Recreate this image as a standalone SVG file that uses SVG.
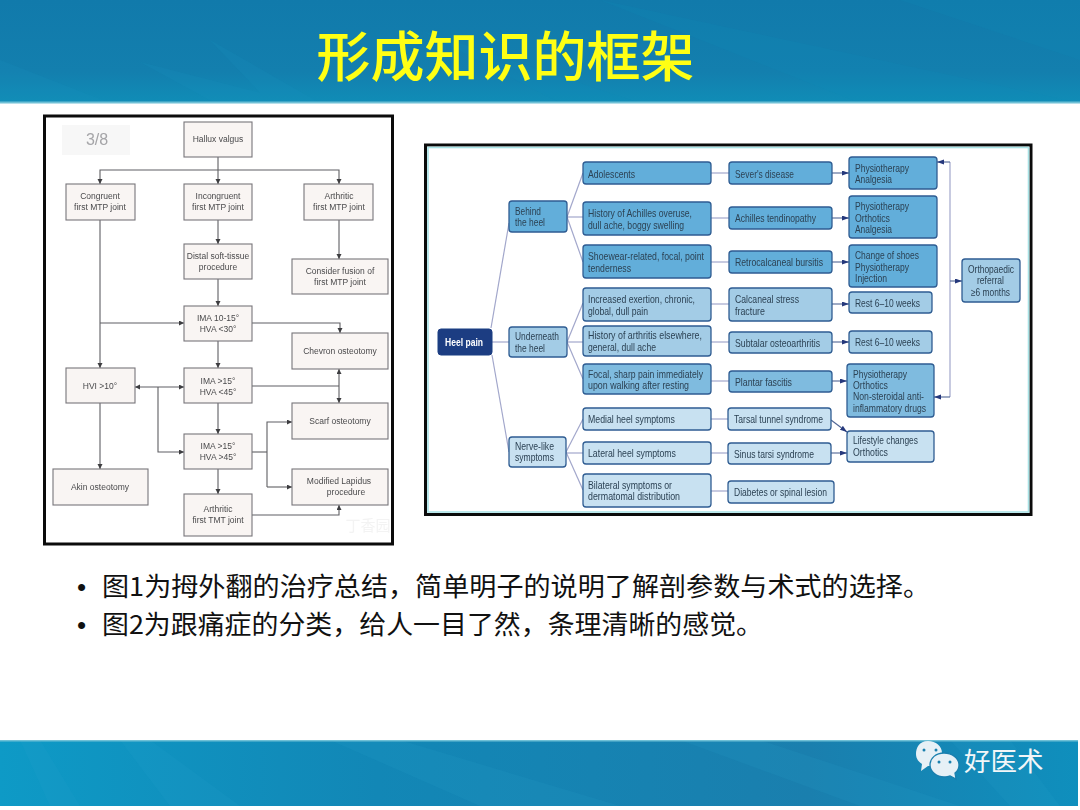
<svg xmlns="http://www.w3.org/2000/svg" width="1080" height="810" viewBox="0 0 1080 810">
<style>
.cjk{font-family:"Noto Sans CJK SC","Noto Sans",sans-serif}
.l rect{fill:#f9f5f3;stroke:#77757a;stroke-width:1.1}
.l text{font-family:"Liberation Sans",Arial,sans-serif;font-size:8.5px;fill:#4a4a4c;text-anchor:middle}
.cl path{fill:none;stroke:#5f5f62;stroke-width:1.1}
.r rect{stroke:#2f5c92;stroke-width:1.3}
.r text{font-family:"Liberation Sans",Arial,sans-serif;font-size:10.5px;fill:#2c4254}
.d rect{fill:#62aeda}.m rect{fill:#a3cce6}.p rect{fill:#c8e1f1}.s rect{fill:#7fbbdf}
.tl path{fill:none;stroke:#a2a7cb;stroke-width:1.2}
.ta path{fill:none;stroke:#4f6494;stroke-width:1.1}
.b{font-family:"Liberation Sans",Arial,sans-serif}
</style>
<defs>
<linearGradient id="hd" x1="0" y1="0" x2="0" y2="1"><stop offset="0" stop-color="#117aab"/><stop offset="0.7" stop-color="#137fae"/><stop offset="1" stop-color="#108db7"/></linearGradient>
<linearGradient id="ft" x1="0" y1="0" x2="1" y2="0"><stop offset="0" stop-color="#0e9ac6"/><stop offset="0.35" stop-color="#1287b6"/><stop offset="0.75" stop-color="#1a7fae"/><stop offset="1" stop-color="#0f8fbd"/></linearGradient>
<marker id="a" markerWidth="6" markerHeight="6" refX="5" refY="2.5" orient="auto-start-reverse" markerUnits="userSpaceOnUse"><path d="M0 0L5 2.5L0 5z" fill="#3c3c40"/></marker>
<marker id="b" markerWidth="8" markerHeight="6" refX="7" refY="2.5" orient="auto-start-reverse" markerUnits="userSpaceOnUse"><path d="M0 0L7 2.5L0 5z" fill="#25397c"/></marker>
<filter id="soft" x="-2%" y="-2%" width="104%" height="104%"><feGaussianBlur stdDeviation="0.3"/></filter>
</defs>
<rect width="1080" height="810" fill="#fff"/>
<g id="header">
<rect width="1080" height="103" fill="url(#hd)"/>
<path d="M0 60L110 103H0z M140 62L300 103H215z M210 40L320 103H270z" fill="#1b93bd" opacity=".2"/>
<path d="M600 0L1080 103H860z M900 0H1080V60z M420 30L640 103H560z" fill="#0f8dbb" opacity=".2"/>
<rect y="101.500" width="1080" height="2" fill="#6fc0d6"/>
<text x="505.500" y="77" text-anchor="middle" class="cjk" font-size="54" font-weight="500" fill="#ffff14">形成知识的框架</text>
</g>
<g id="footer">
<rect y="740" width="1078" height="66" fill="url(#ft)"/>
<path d="M20 740L50 806H80L40 740z M120 740L170 806H240L150 740z M330 740L480 806H620L400 740z M680 740L860 806H960L760 740z M950 740L1010 806H1060L1010 740z" fill="#2aa5cc" opacity=".14"/>
<rect y="740" width="1078" height="1.500" fill="#6fc0d6"/>
</g>
<rect x="44.500" y="116" width="348" height="428" fill="#fff" stroke="#0b0b0b" stroke-width="3"/>
<rect x="62" y="125" width="68" height="30" fill="#f7f7f7"/>
<g filter="url(#soft)">
<text x="97" y="145" text-anchor="middle" font-family="Liberation Sans,Arial,sans-serif" font-size="16" fill="#a5a5a8">3/8</text>
<text x="368" y="531" text-anchor="middle" class="cjk" font-size="15" fill="#f3f3f3">丁香园</text>
<g id="left-connectors" class="cl">
<path d="M218 157V184" marker-end="url(#a)"/>
<path d="M218 170H100V184" marker-end="url(#a)"/>
<path d="M218 170H339V184" marker-end="url(#a)"/>
<path d="M218 220V244" marker-end="url(#a)"/>
<path d="M339 220V259" marker-end="url(#a)"/>
<path d="M218 279V306" marker-end="url(#a)"/>
<path d="M100 220V368" marker-end="url(#a)"/>
<path d="M100 323H184" marker-end="url(#a)"/>
<path d="M252 323H340V333" marker-end="url(#a)"/>
<path d="M218 341V368" marker-end="url(#a)"/>
<path d="M135 387H184" marker-start="url(#a)" marker-end="url(#a)"/>
<path d="M158 387V452H184" marker-end="url(#a)"/>
<path d="M252 386H339"/>
<path d="M339 369V403" marker-start="url(#a)" marker-end="url(#a)"/>
<path d="M218 403V434" marker-end="url(#a)"/>
<path d="M252 452H267"/>
<path d="M267 487V422H292" marker-end="url(#a)"/>
<path d="M267 487H292" marker-end="url(#a)"/>
<path d="M218 469V494" marker-end="url(#a)"/>
<path d="M252 515H339V505" marker-end="url(#a)"/>
<path d="M100 403V469" marker-end="url(#a)"/>
</g>
<g id="hallux" class="l"><rect x="184" y="122" width="68" height="35"/><text x="218" y="142">Hallux valgus</text></g>
<g id="congruent" class="l"><rect x="66" y="184" width="69" height="36"/><text x="100" y="199">Congruent</text><text x="100" y="210">first MTP joint</text></g>
<g id="incongruent" class="l"><rect x="184" y="184" width="68" height="36"/><text x="218" y="199">Incongruent</text><text x="218" y="210">first MTP joint</text></g>
<g id="arthritic-mtp" class="l"><rect x="304" y="184" width="69" height="36"/><text x="339" y="199">Arthritic</text><text x="339" y="210">first MTP joint</text></g>
<g id="distal" class="l"><rect x="184" y="244" width="68" height="35"/><text x="218" y="259">Distal soft-tissue</text><text x="218" y="270">procedure</text></g>
<g id="fusion" class="l"><rect x="292" y="259" width="96" height="35"/><text x="340" y="274">Consider fusion of</text><text x="340" y="285">first MTP joint</text></g>
<g id="ima10" class="l"><rect x="184" y="306" width="68" height="35"/><text x="218" y="321">IMA 10-15°</text><text x="218" y="332">HVA &lt;30°</text></g>
<g id="chevron" class="l"><rect x="292" y="333" width="96" height="36"/><text x="340" y="354">Chevron osteotomy</text></g>
<g id="hvi" class="l"><rect x="66" y="368" width="69" height="35"/><text x="100" y="389">HVI &gt;10°</text></g>
<g id="ima15a" class="l"><rect x="184" y="368" width="68" height="35"/><text x="218" y="384">IMA &gt;15°</text><text x="218" y="395">HVA &lt;45°</text></g>
<g id="scarf" class="l"><rect x="292" y="403" width="96" height="36"/><text x="340" y="424">Scarf osteotomy</text></g>
<g id="ima15b" class="l"><rect x="184" y="434" width="68" height="35"/><text x="218" y="449">IMA &gt;15°</text><text x="218" y="460">HVA &gt;45°</text></g>
<g id="lapidus" class="l"><rect x="292" y="469" width="96" height="36"/><text x="339" y="484">Modified Lapidus</text><text x="346" y="495">procedure</text></g>
<g id="akin" class="l"><rect x="53" y="469" width="95" height="36"/><text x="100" y="490">Akin osteotomy</text></g>
<g id="tmt" class="l"><rect x="184" y="494" width="68" height="42"/><text x="218" y="512">Arthritic</text><text x="218" y="523">first TMT joint</text></g>
</g>
<rect x="425.500" y="145" width="605.500" height="369.500" fill="#fff" stroke="#0b0b0b" stroke-width="3"/>
<rect x="428" y="147.500" width="600.500" height="364.500" fill="#fff" stroke="#a9e3e6" stroke-width="1.600"/>
<g filter="url(#soft)">
<g id="right-connectors">
<g class="tl">
<path d="M491 328L509 223"/><path d="M492 342H509"/><path d="M492 355L509 452"/>
<path d="M567 217L583 173"/><path d="M567 217H583"/><path d="M567 217L583 262"/>
<path d="M567 342L583 303"/><path d="M567 342H583"/><path d="M567 342L583 379"/>
<path d="M566 452L583 419"/><path d="M566 453H583"/><path d="M566 452L583 490"/>
<path d="M711 173H729"/><path d="M711 218H729"/><path d="M711 262H729"/><path d="M711 304H729"/><path d="M711 342H729"/><path d="M711 381H729"/><path d="M711 419H728"/><path d="M711 453H728"/><path d="M711 491H728"/>
<path d="M950 162V397"/>
</g>
<g class="ta">
<path d="M832 173H849" marker-end="url(#b)"/><path d="M832 218H849" marker-end="url(#b)"/><path d="M832 262H849" marker-end="url(#b)"/><path d="M832 304H849" marker-end="url(#b)"/><path d="M832 342H849" marker-end="url(#b)"/><path d="M832 381H847" marker-end="url(#b)"/>
<path d="M831 420L847 432" marker-end="url(#b)"/><path d="M831 453H847" marker-end="url(#b)"/>
<path d="M950 162H937" marker-end="url(#b)"/><path d="M950 397H934" marker-end="url(#b)"/><path d="M950 281H962" marker-end="url(#b)"/>
</g>
</g>
<g id="heel-pain"><rect x="438" y="329" width="54" height="26" rx="3" fill="#1d3d82" stroke="#1d3d82"/><text x="445" y="346" font-family="Liberation Sans,Arial,sans-serif" font-size="10.500" font-weight="700" fill="#fff" textLength="38" lengthAdjust="spacingAndGlyphs">Heel pain</text></g>
<g id="behind" class="r d"><rect x="509" y="201" width="58" height="31" rx="3"/><text x="515" y="215" textLength="26" lengthAdjust="spacingAndGlyphs">Behind</text><text x="515" y="226" textLength="30" lengthAdjust="spacingAndGlyphs">the heel</text></g>
<g id="underneath" class="r m"><rect x="509" y="327" width="58" height="30" rx="3"/><text x="515" y="340" textLength="44" lengthAdjust="spacingAndGlyphs">Underneath</text><text x="515" y="352" textLength="30" lengthAdjust="spacingAndGlyphs">the heel</text></g>
<g id="nerve" class="r p"><rect x="509" y="437" width="57" height="30" rx="3"/><text x="515" y="450" textLength="39" lengthAdjust="spacingAndGlyphs">Nerve-like</text><text x="515" y="461" textLength="39" lengthAdjust="spacingAndGlyphs">symptoms</text></g>
<g id="adolescents" class="r d"><rect x="583" y="162" width="128" height="22" rx="3"/><text x="588" y="178" textLength="47" lengthAdjust="spacingAndGlyphs">Adolescents</text></g>
<g id="achilles-history" class="r d"><rect x="583" y="202" width="128" height="33" rx="3"/><text x="588" y="217" textLength="104" lengthAdjust="spacingAndGlyphs">History of Achilles overuse,</text><text x="588" y="229" textLength="96" lengthAdjust="spacingAndGlyphs">dull ache, boggy swelling</text></g>
<g id="shoewear" class="r d"><rect x="583" y="245" width="128" height="33" rx="3"/><text x="588" y="260" textLength="116" lengthAdjust="spacingAndGlyphs">Shoewear-related, focal, point</text><text x="588" y="272" textLength="43" lengthAdjust="spacingAndGlyphs">tenderness</text></g>
<g id="increased" class="r m"><rect x="583" y="288" width="128" height="33" rx="3"/><text x="588" y="303" textLength="107" lengthAdjust="spacingAndGlyphs">Increased exertion, chronic,</text><text x="588" y="315" textLength="60" lengthAdjust="spacingAndGlyphs">global, dull pain</text></g>
<g id="arthritis-history" class="r m"><rect x="583" y="326" width="128" height="30" rx="3"/><text x="588" y="339" textLength="114" lengthAdjust="spacingAndGlyphs">History of arthritis elsewhere,</text><text x="588" y="351" textLength="68" lengthAdjust="spacingAndGlyphs">general, dull ache</text></g>
<g id="focal" class="r s"><rect x="583" y="364" width="128" height="30" rx="3"/><text x="588" y="378" textLength="115" lengthAdjust="spacingAndGlyphs">Focal, sharp pain immediately</text><text x="588" y="389" textLength="101" lengthAdjust="spacingAndGlyphs">upon walking after resting</text></g>
<g id="medial" class="r p"><rect x="583" y="408" width="128" height="22" rx="3"/><text x="588" y="423" textLength="87" lengthAdjust="spacingAndGlyphs">Medial heel symptoms</text></g>
<g id="lateral" class="r p"><rect x="583" y="442" width="128" height="22" rx="3"/><text x="588" y="457" textLength="88" lengthAdjust="spacingAndGlyphs">Lateral heel symptoms</text></g>
<g id="bilateral" class="r p"><rect x="583" y="474" width="128" height="33" rx="3"/><text x="588" y="489" textLength="84" lengthAdjust="spacingAndGlyphs">Bilateral symptoms or</text><text x="588" y="500" textLength="92" lengthAdjust="spacingAndGlyphs">dermatomal distribution</text></g>
<g id="sever" class="r d"><rect x="729" y="162" width="103" height="22" rx="3"/><text x="735" y="178" textLength="59" lengthAdjust="spacingAndGlyphs">Sever's disease</text></g>
<g id="tendinopathy" class="r d"><rect x="729" y="207" width="103" height="22" rx="3"/><text x="735" y="222" textLength="81" lengthAdjust="spacingAndGlyphs">Achilles tendinopathy</text></g>
<g id="bursitis" class="r d"><rect x="729" y="251" width="103" height="22" rx="3"/><text x="735" y="266" textLength="88" lengthAdjust="spacingAndGlyphs">Retrocalcaneal bursitis</text></g>
<g id="calcaneal" class="r m"><rect x="729" y="288" width="103" height="33" rx="3"/><text x="735" y="303" textLength="64" lengthAdjust="spacingAndGlyphs">Calcaneal stress</text><text x="735" y="315" textLength="30" lengthAdjust="spacingAndGlyphs">fracture</text></g>
<g id="subtalar" class="r m"><rect x="729" y="332" width="103" height="21" rx="3"/><text x="735" y="347" textLength="85" lengthAdjust="spacingAndGlyphs">Subtalar osteoarthritis</text></g>
<g id="plantar" class="r s"><rect x="729" y="371" width="103" height="21" rx="3"/><text x="735" y="386" textLength="57" lengthAdjust="spacingAndGlyphs">Plantar fascitis</text></g>
<g id="tarsal" class="r p"><rect x="728" y="408" width="103" height="22" rx="3"/><text x="734" y="423" textLength="89" lengthAdjust="spacingAndGlyphs">Tarsal tunnel syndrome</text></g>
<g id="sinus" class="r p"><rect x="728" y="443" width="103" height="21" rx="3"/><text x="734" y="458" textLength="80" lengthAdjust="spacingAndGlyphs">Sinus tarsi syndrome</text></g>
<g id="diabetes" class="r p"><rect x="728" y="481" width="106" height="22" rx="3"/><text x="734" y="496" textLength="93" lengthAdjust="spacingAndGlyphs">Diabetes or spinal lesion</text></g>
<g id="treat1" class="r d"><rect x="849" y="157" width="88" height="32" rx="3"/><text x="855" y="172" textLength="54" lengthAdjust="spacingAndGlyphs">Physiotherapy</text><text x="855" y="183" textLength="37" lengthAdjust="spacingAndGlyphs">Analgesia</text></g>
<g id="treat2" class="r d"><rect x="849" y="196" width="88" height="42" rx="3"/><text x="855" y="210" textLength="54" lengthAdjust="spacingAndGlyphs">Physiotherapy</text><text x="855" y="222" textLength="35" lengthAdjust="spacingAndGlyphs">Orthotics</text><text x="855" y="233" textLength="37" lengthAdjust="spacingAndGlyphs">Analgesia</text></g>
<g id="treat3" class="r d"><rect x="849" y="245" width="88" height="42" rx="3"/><text x="855" y="259" textLength="64" lengthAdjust="spacingAndGlyphs">Change of shoes</text><text x="855" y="271" textLength="54" lengthAdjust="spacingAndGlyphs">Physiotherapy</text><text x="855" y="282" textLength="32" lengthAdjust="spacingAndGlyphs">Injection</text></g>
<g id="rest1" class="r m"><rect x="849" y="292" width="83" height="21" rx="3"/><text x="855" y="307" textLength="65" lengthAdjust="spacingAndGlyphs">Rest 6–10 weeks</text></g>
<g id="rest2" class="r m"><rect x="849" y="331" width="83" height="22" rx="3"/><text x="855" y="346" textLength="65" lengthAdjust="spacingAndGlyphs">Rest 6–10 weeks</text></g>
<g id="treat4" class="r s"><rect x="847" y="364" width="87" height="53" rx="3"/><text x="853" y="378" textLength="54" lengthAdjust="spacingAndGlyphs">Physiotherapy</text><text x="853" y="389" textLength="35" lengthAdjust="spacingAndGlyphs">Orthotics</text><text x="853" y="400" textLength="71" lengthAdjust="spacingAndGlyphs">Non-steroidal anti-</text><text x="853" y="412" textLength="73" lengthAdjust="spacingAndGlyphs">inflammatory drugs</text></g>
<g id="lifestyle" class="r p"><rect x="847" y="431" width="87" height="31" rx="3"/><text x="853" y="444" textLength="65" lengthAdjust="spacingAndGlyphs">Lifestyle changes</text><text x="853" y="456" textLength="35" lengthAdjust="spacingAndGlyphs">Orthotics</text></g>
<g id="ortho" class="r m"><rect x="962" y="259" width="58" height="43" rx="3"/><text x="968" y="273" textLength="46" lengthAdjust="spacingAndGlyphs">Orthopaedic</text><text x="977" y="284" textLength="27" lengthAdjust="spacingAndGlyphs">referral</text><text x="971" y="296" textLength="39" lengthAdjust="spacingAndGlyphs">≥6 months</text></g>
</g>
<g id="bullets" font-size="26" fill="#111">
<text x="77" y="596" class="b">•</text><text x="102" y="596" class="cjk" textLength="828" lengthAdjust="spacingAndGlyphs">图1为拇外翻的治疗总结，简单明子的说明了解剖参数与术式的选择。</text>
<text x="77" y="634" class="b">•</text><text x="102" y="634" class="cjk" textLength="661" lengthAdjust="spacingAndGlyphs">图2为跟痛症的分类，给人一目了然，条理清晰的感觉。</text>
</g>
<g id="watermark">
<path d="M928 741C919 741 916 748 916 754C916 759 919 762 922 764L921 771L928 766C937 767 942 760 942 753C942 746 936 741 928 741z" fill="#e6f0f6"/>
<path d="M944 753C936 753 930 758 930 765C930 772 937 777 944 777C947 777 949 776 950 776L956 779L955 773C958 771 959 768 959 765C959 758 952 753 944 753z" fill="#e6f0f6" stroke="#1a7fae" stroke-width="1.300"/>
<circle cx="924" cy="750" r="1.500" fill="#1a7fae"/><circle cx="936" cy="750" r="1.500" fill="#1a7fae"/>
<circle cx="939" cy="762" r="1.500" fill="#1a7fae"/><circle cx="950" cy="762" r="1.500" fill="#1a7fae"/>
<text x="964" y="771" class="cjk" font-size="26.500" fill="#f2f6f8">好医术</text>
</g>
</svg>
